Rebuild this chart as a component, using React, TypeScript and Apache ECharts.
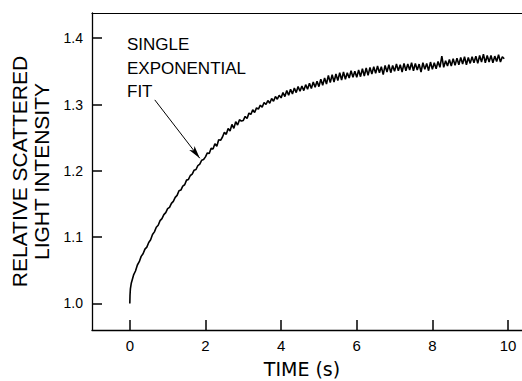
import React, { useEffect, useRef } from "react";
import * as echarts from "echarts";

// Initial rise (explicit times, seconds) and values
const headTimes = [0, 0.005, 0.015, 0.04, 0.07];
const headValues = [1.0, 1.012, 1.022, 1.031, 1.037];

// Trace sampled every 0.05 s from 0.10 s to 9.90 s
const TRACE_START = 0.1;
const TRACE_STEP = 0.05;
const traceValues = [
  // 0.10 – 1.95
  1.043, 1.049, 1.058, 1.063, 1.071, 1.075, 1.082, 1.085, 1.092, 1.096,
  1.104, 1.108, 1.115, 1.118, 1.125, 1.128, 1.134, 1.137, 1.143, 1.145,
  1.151, 1.154, 1.160, 1.163, 1.170, 1.171, 1.177, 1.179, 1.186, 1.187,
  1.193, 1.195, 1.201, 1.202, 1.208, 1.210, 1.216, 1.217,
  // 2.00 – 2.95
  1.221, 1.227, 1.226, 1.234, 1.233, 1.241, 1.237, 1.247, 1.246, 1.251,
  1.258, 1.255, 1.264, 1.260, 1.270, 1.264, 1.274, 1.269, 1.277, 1.275,
  // 3.00 – 3.95
  1.276, 1.282, 1.279, 1.287, 1.285, 1.292, 1.288, 1.295, 1.293, 1.299,
  1.296, 1.303, 1.300, 1.306, 1.302, 1.309, 1.305, 1.312, 1.308, 1.314,
  // 4.00 – 4.95
  1.310, 1.318, 1.312, 1.321, 1.314, 1.323, 1.316, 1.325, 1.318, 1.327,
  1.320, 1.328, 1.321, 1.330, 1.323, 1.332, 1.324, 1.334, 1.326, 1.335,
  // 5.00 – 5.95
  1.327, 1.338, 1.329, 1.340, 1.331, 1.344, 1.333, 1.345, 1.334, 1.346,
  1.336, 1.348, 1.337, 1.349, 1.338, 1.348, 1.340, 1.351, 1.341, 1.350,
  // 6.00 – 6.95
  1.341, 1.352, 1.342, 1.354, 1.343, 1.355, 1.344, 1.356, 1.346, 1.357,
  1.347, 1.358, 1.348, 1.357, 1.345, 1.359, 1.349, 1.360, 1.348, 1.359,
  // 7.00 – 7.95
  1.350, 1.361, 1.351, 1.360, 1.349, 1.362, 1.351, 1.361, 1.352, 1.363,
  1.351, 1.362, 1.352, 1.361, 1.349, 1.363, 1.353, 1.362, 1.351, 1.364,
  // 8.00 – 8.95
  1.353, 1.363, 1.354, 1.365, 1.356, 1.373, 1.356, 1.366, 1.358, 1.368,
  1.358, 1.369, 1.359, 1.370, 1.360, 1.371, 1.361, 1.372, 1.360, 1.371,
  // 9.00 – 9.90
  1.362, 1.372, 1.363, 1.373, 1.362, 1.374, 1.364, 1.376, 1.363, 1.374,
  1.364, 1.374, 1.363, 1.373, 1.365, 1.375, 1.364, 1.372, 1.369,
];

const X_MIN = -1;
const X_MAX = 10.37;
const Y_MIN = 0.96;
const Y_MAX = 1.438;
const xTicks = [0, 2, 4, 6, 8, 10];
const yTicks = [1.0, 1.1, 1.2, 1.3, 1.4];

const annotationLines = ["SINGLE", "EXPONENTIAL", "FIT"];
const arrowFrom = [0.66, 1.307];
const arrowTo = [1.85, 1.219];

const INK = "#000";
const FONT = "'Liberation Sans', Arial, sans-serif";

export default function App() {
  const ref = useRef<HTMLDivElement>(null);

  useEffect(() => {
    document.body.style.margin = "0";
    if (!ref.current) return;
    const chart = echarts.init(ref.current, null, { renderer: "svg" });

    const data: number[][] = [];
    headTimes.forEach((t, i) => data.push([t, headValues[i]]));
    traceValues.forEach((v, i) =>
      data.push([+(TRACE_START + i * TRACE_STEP).toFixed(3), v])
    );

    chart.setOption({
      animation: false,
      grid: {
        left: 92,
        top: 13,
        right: 0,
        bottom: 51,
        outerBoundsMode: "none",
      },
      xAxis: [
        {
          type: "value",
          min: X_MIN,
          max: X_MAX,
          splitLine: { show: false },
          axisLine: {
            show: true,
            onZero: false,
            lineStyle: { color: INK, width: 1.4 },
          },
          axisTick: {
            show: true,
            inside: true,
            length: 10,
            customValues: xTicks,
            lineStyle: { color: INK, width: 1.5 },
          },
          axisLabel: {
            customValues: xTicks,
            margin: 8,
            fontFamily: FONT,
            fontSize: 15,
            color: INK,
          },
        },
        {
          type: "value",
          position: "top",
          min: X_MIN,
          max: X_MAX,
          splitLine: { show: false },
          axisLine: {
            show: true,
            onZero: false,
            lineStyle: { color: INK, width: 1.2 },
          },
          axisTick: { show: false },
          axisLabel: { show: false },
        },
      ],
      yAxis: {
        type: "value",
        min: Y_MIN,
        max: Y_MAX,
        splitLine: { show: false },
        axisLine: {
          show: true,
          onZero: false,
          lineStyle: { color: INK, width: 1.3 },
        },
        axisTick: {
          show: true,
          inside: true,
          length: 10,
          customValues: yTicks,
          lineStyle: { color: INK, width: 1.5 },
        },
        axisLabel: {
          customValues: yTicks,
          margin: 9,
          fontFamily: FONT,
          fontSize: 14,
          color: INK,
          formatter: (v: number) => v.toFixed(1),
        },
        name: "RELATIVE SCATTERED\nLIGHT INTENSITY",
        nameLocation: "middle",
        nameRotate: 90,
        nameGap: 37,
        nameTextStyle: {
          fontFamily: FONT,
          fontSize: 21,
          color: INK,
          lineHeight: 22,
        },
      },
      graphic: [
        {
          type: "text",
          x: 302,
          y: 369,
          style: {
            text: "TIME (s)",
            font: "19px 'DejaVu Sans', sans-serif",
            fill: INK,
            textAlign: "center",
            textVerticalAlign: "middle",
          },
        },
        ...annotationLines.map((line, i) => ({
          type: "text",
          x: 127,
          y: 44.5 + i * 23.6,
          style: {
            text: line,
            font: `17px ${FONT}`,
            fill: INK,
            textAlign: "left",
            textVerticalAlign: "middle",
          },
        })),
      ],
      series: [
        {
          type: "line",
          data,
          showSymbol: false,
          symbol: "none",
          lineStyle: { color: INK, width: 1.6 },
          markLine: {
            silent: true,
            symbol: ["none", "arrow"],
            symbolSize: [5, 13],
            label: { show: false },
            lineStyle: { color: INK, width: 1, type: "solid" },
            data: [
              [
                { coord: arrowFrom, symbol: "none" },
                { coord: arrowTo, symbol: "arrow" },
              ],
            ],
          },
        },
      ],
    });

    return () => chart.dispose();
  }, []);

  return <div ref={ref} style={{ width: 522, height: 381 }} />;
}
